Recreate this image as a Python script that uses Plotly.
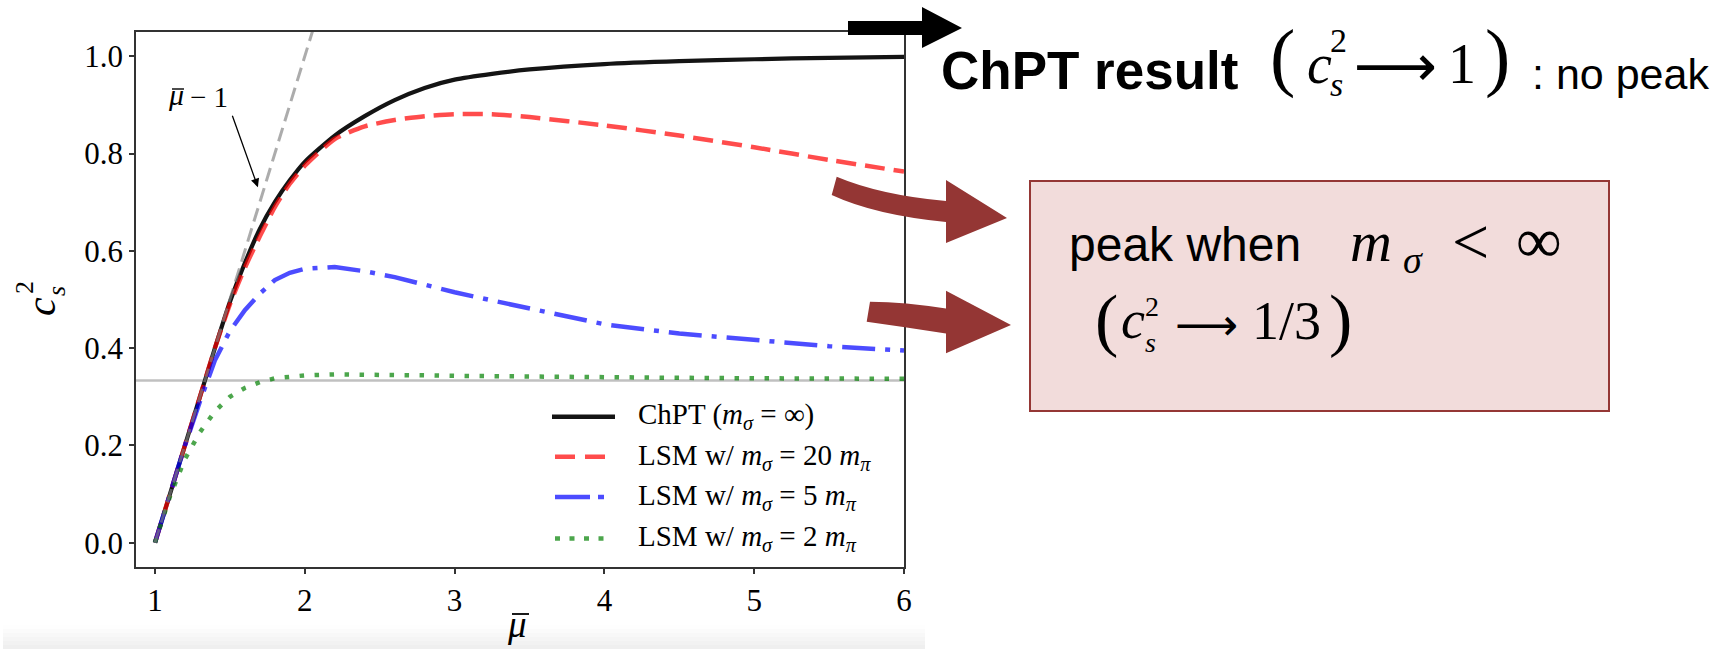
import plotly.graph_objects as go

# ---------------------------------------------------------------- data
mu_bar = [1.0, 1.1, 1.2, 1.3, 1.4, 1.5, 1.6, 1.7, 1.8, 1.9, 2.0, 2.2, 2.4,
          2.6, 2.8, 3.0, 3.25, 3.5, 4.0, 4.5, 5.0, 5.5, 6.0]

cs2_chpt = [0.0, 0.10, 0.20, 0.30, 0.40, 0.495, 0.575, 0.645, 0.70, 0.745,
            0.783, 0.837, 0.877, 0.910, 0.935, 0.952, 0.964, 0.973, 0.984,
            0.990, 0.994, 0.997, 0.999]
cs2_lsm_20 = [0.0, 0.10, 0.20, 0.30, 0.40, 0.49, 0.565, 0.63, 0.69, 0.738,
              0.775, 0.830, 0.856, 0.869, 0.877, 0.881, 0.881, 0.875, 0.858,
              0.837, 0.813, 0.787, 0.763]
cs2_lsm_5 = [0.0, 0.10, 0.20, 0.29, 0.375, 0.435, 0.478, 0.512, 0.540, 0.555,
             0.563, 0.567, 0.558, 0.546, 0.530, 0.515, 0.498, 0.482, 0.449,
             0.430, 0.416, 0.404, 0.395]
cs2_lsm_2 = [0.0, 0.095, 0.172, 0.227, 0.270, 0.300, 0.318, 0.330, 0.338,
             0.342, 0.344, 0.346, 0.346, 0.345, 0.344, 0.343, 0.342, 0.341,
             0.340, 0.339, 0.338, 0.338, 0.337]

# low-density asymptote  c_s^2 = mu_bar - 1
asym_mu = [1.0, 2.1]
asym_cs2 = [0.0, 1.1]

CONFORMAL_LIMIT = 1 / 3

x_ticks = [1, 2, 3, 4, 5, 6]
y_ticks = [0.0, 0.2, 0.4, 0.6, 0.8, 1.0]
y_tick_text = ["0.0", "0.2", "0.4", "0.6", "0.8", "1.0"]

legend_labels = [
    "ChPT (<i>m</i><sub><i>σ</i></sub> = ∞)",
    "LSM w/ <i>m</i><sub><i>σ</i></sub> = 20 <i>m</i><sub><i>π</i></sub>",
    "LSM w/ <i>m</i><sub><i>σ</i></sub> = 5 <i>m</i><sub><i>π</i></sub>",
    "LSM w/ <i>m</i><sub><i>σ</i></sub> = 2 <i>m</i><sub><i>π</i></sub>",
]

# ---------------------------------------------------------------- layout helpers
FIG_W, FIG_H = 1729, 649
PLOT_L, PLOT_R, PLOT_T, PLOT_B = 136, 904, 32, 567
SERIF = "Liberation Serif"
SANS = "Liberation Sans"
ARROW_FONT = "DejaVu Sans"
DARK_RED = "#943634"
LONG_ARROW = "\u27f6"


def px(x):
    return (x - PLOT_L) / (PLOT_R - PLOT_L)


def py(y):
    return (PLOT_B - y) / (PLOT_B - PLOT_T)


annotations = []
shapes = []


def text(s, x, baseline, size, family=SERIF, anchor="left", color="black"):
    annotations.append(dict(
        text=s, x=px(x), y=py(baseline - 0.34 * size), xref="paper", yref="paper",
        xanchor=anchor, yanchor="middle", showarrow=False,
        font=dict(size=size, family=family, color=color)))


def stack(sup, sub, x, top_baseline, size, family=SERIF):
    """superscript over subscript, two lines 1.3 em apart"""
    centre = top_baseline + 0.65 * size - 0.34 * size
    annotations.append(dict(
        text=f"{sup}<br>{sub}", x=px(x), y=py(centre), xref="paper", yref="paper",
        xanchor="left", yanchor="middle", align="left", showarrow=False,
        font=dict(size=size, family=family, color="black")))


def rotated(s, cx, cy, size, family=SERIF):
    annotations.append(dict(
        text=s, x=px(cx), y=py(cy), xref="paper", yref="paper",
        xanchor="center", yanchor="middle", showarrow=False, textangle=-90,
        font=dict(size=size, family=family, color="black")))


def bar(x0, x1, y, width=1.6):
    shapes.append(dict(type="line", xref="paper", yref="paper",
                       x0=px(x0), x1=px(x1), y0=py(y), y1=py(y),
                       line=dict(color="black", width=width)))


def pt(p):
    return f"{px(p[0]):.5f},{py(p[1]):.5f}"


def polygon(start, segments, color):
    """segments: ('L', p) or ('Q', ctrl, p)"""
    parts = ["M" + pt(start)]
    for seg in segments:
        parts.append(seg[0] + " ".join(pt(p) for p in seg[1:]))
    shapes.append(dict(type="path", xref="paper", yref="paper",
                       path=" ".join(parts) + " Z", fillcolor=color,
                       line=dict(width=0), layer="above"))


# ---------------------------------------------------------------- curves
fig = go.Figure()

series = [
    (cs2_chpt, dict(color="#141414", width=4.2, dash="solid", shape="spline", smoothing=0.6)),
    (cs2_lsm_20, dict(color="rgba(255,0,0,0.7)", width=4.5, dash="20px,9px",
                      shape="spline", smoothing=0.6)),
    (cs2_lsm_5, dict(color="rgba(0,0,255,0.7)", width=4.5, dash="33px,10px,5px,10px")),
    (cs2_lsm_2, dict(color="rgba(0,128,0,0.7)", width=4.5, dash="4.5px,10.5px")),
]
for (vals, line), name in zip(series, legend_labels):
    fig.add_trace(go.Scatter(x=mu_bar, y=vals, mode="lines", line=line,
                             name=name, showlegend=False))

fig.add_trace(go.Scatter(x=asym_mu, y=asym_cs2, mode="lines", showlegend=False,
                         line=dict(color="rgba(128,128,128,0.65)", width=3,
                                   dash="14px,7px")))

fig.add_hline(y=CONFORMAL_LIMIT, line=dict(color="#c0c0c0", width=2.5),
              layer="below")

# label of the asymptote with a thin pointer
text("<i>\u03bc</i>", 166, 105, 30)
bar(172, 184, 89, 1.4)
text("\u2212 1", 188, 107, 29)
fig.add_annotation(x=1.687, y=0.731, ax=1.513, ay=0.881, xref="x", yref="y",
                   axref="x", ayref="y", text="", showarrow=True,
                   arrowhead=2, arrowsize=1.3, arrowwidth=1.3,
                   arrowcolor="black", standoff=0)

# ---------------------------------------------------------------- legend
legend_rows = [
    (416.7, 426, dict(color="#141414", width=4.5, dash="solid"), 552, 615),
    (456.7, 466.5, dict(color="rgba(255,0,0,0.7)", width=4.5, dash="20px,10px"), 555, 605),
    (497.0, 506.5, dict(color="rgba(0,0,255,0.7)", width=4.5, dash="35px,8px,6px,10px"), 555, 605),
    (538.5, 548, dict(color="rgba(0,128,0,0.7)", width=4.5, dash="5px,9.5px"), 555, 605),
]
for (ly, base, line, x0, x1), label in zip(legend_rows, legend_labels):
    shapes.append(dict(type="line", xref="paper", yref="paper",
                       x0=px(x0), x1=px(x1), y0=py(ly), y1=py(ly), line=line))
    text(label, 636, base, 29)

# axis titles
text("<i>\u03bc</i>", 505, 637, 37)
bar(512, 529, 614, 1.8)
rotated("<i>c</i>", 41, 307, 42)
rotated("2", 24, 288, 26)
rotated("<i>s</i>", 56, 291, 26)

# ---------------------------------------------------------------- slide callouts
# faint shadow band under the chart
band = ["#fefefe", "#fbfbfb", "#f8f8f8", "#f5f5f5", "#f2f2f2", "#efefef"]
for i, col in enumerate(band):
    shapes.append(dict(type="rect", xref="paper", yref="paper", layer="below",
                       x0=px(3), x1=px(925), y0=py(625 + 4 * i + 4), y1=py(625 + 4 * i),
                       fillcolor=col, line=dict(width=0)))

# black arrow pointing to the ChPT statement
polygon((848, 21), [("L", (922, 21)), ("L", (922, 7)), ("L", (962, 28)),
                    ("L", (922, 48)), ("L", (922, 35)), ("L", (848, 35))], "black")

text("<b>ChPT result</b>", 939, 89, 53, family=SANS)
text("(", 1268, 82, 76)
text("<i>c</i>", 1305, 83, 56)
stack("2", "<i>s</i>", 1328, 52, 34)
text(LONG_ARROW, 1352, 86, 58, family=ARROW_FONT)
text("1", 1446, 83, 56)
text(")", 1483, 82, 76)
text(": no peak", 1530, 89, 43, family=SANS)

# box with the linear-sigma-model statement
shapes.append(dict(type="rect", xref="paper", yref="paper", layer="above",
                   x0=px(1030), x1=px(1609), y0=py(411), y1=py(181),
                   fillcolor="#f2dcdb", line=dict(color="#953735", width=2)))

text("peak when", 1067, 261, 48, family=SANS)
text("<i>m</i>", 1348, 261, 58)
text("<i>σ</i>", 1401, 273, 38)
text("<", 1450, 264, 66)
text("\u221e", 1514, 262, 64)

text("(", 1093, 343, 70)
text("<i>c</i>", 1119, 338, 54)
stack("2", "<i>s</i>", 1143, 316, 28)
text(LONG_ARROW, 1173, 339, 44, family=ARROW_FONT)
text("1/3", 1250, 339, 54)
text(")", 1327, 343, 70)

# curved dark-red arrows into the box
polygon((836.7, 176.7), [("Q", (880, 195), (946, 201)),
                         ("L", (946, 180)), ("L", (1007, 218)), ("L", (946, 243)),
                         ("L", (946, 222)), ("Q", (875, 215), (831.7, 195))], DARK_RED)
polygon((870, 301.7), [("Q", (905, 302), (946, 308.5)),
                       ("L", (946, 290.7)), ("L", (1011, 325)), ("L", (946, 353.3)),
                       ("L", (946, 333.5)), ("Q", (905, 327), (866.7, 321.7))], DARK_RED)

# ---------------------------------------------------------------- axes
axis_common = dict(showline=True, mirror=True, linecolor="#333333", linewidth=1.5,
                   ticks="outside", ticklen=5, tickwidth=1.5, tickcolor="#333333",
                   showgrid=False, zeroline=False,
                   tickfont=dict(family=SERIF, size=31, color="black"))

fig.update_layout(
    width=FIG_W, height=FIG_H,
    margin=dict(l=PLOT_L, r=FIG_W - PLOT_R, t=PLOT_T, b=FIG_H - PLOT_B),
    paper_bgcolor="white", plot_bgcolor="white",
    xaxis=dict(range=[0.8733, 6.0], tickvals=x_ticks, **axis_common),
    yaxis=dict(range=[-0.05, 1.05], tickvals=y_ticks, ticktext=y_tick_text,
               **axis_common),
    annotations=list(fig.layout.annotations) + annotations,
    shapes=list(fig.layout.shapes) + shapes,
    showlegend=False,
)

fig.write_html("out.html")
